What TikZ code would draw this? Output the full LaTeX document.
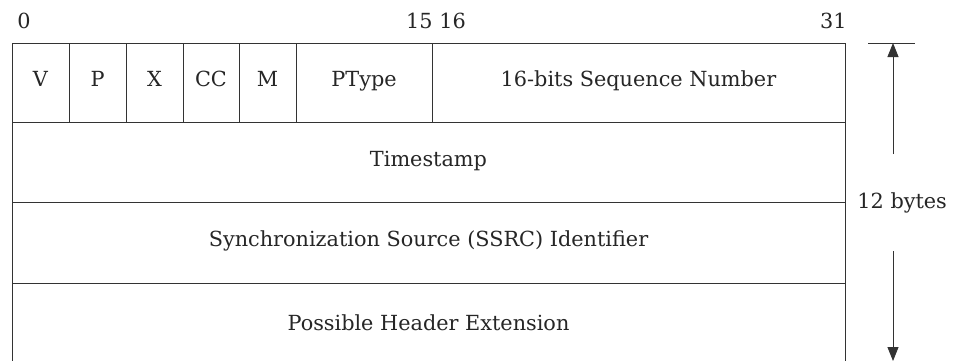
\documentclass[tikz,border=0pt]{standalone}
\usepackage{fontspec}
\setmainfont{DejaVu Serif}
\usetikzlibrary{arrows.meta}
\begin{document}
\begin{tikzpicture}[x=1pt,y=-1pt,
  line width=0.9pt,
  every node/.style={text=black!85},
  cell/.style={draw=black!80, anchor=north west, inner sep=0pt, outer sep=0pt,
    font=\fontsize{20.8}{24}\selectfont, text height=2ex, text depth=0.3ex},
  lbl/.style={font=\fontsize{20.8}{24}\selectfont, inner sep=0pt},
  dim/.style={draw=black!80, line width=0.9pt}
]
\useasboundingbox (0,0) rectangle (954,360);
\clip (0,0) rectangle (954,360);
\fill[white] (0,0) rectangle (954,360);

% bit positions above the header
\node[lbl] (b0)  at (24,21)  {0};
\node[lbl] (b15) at (436,21) {15 16};
\node[lbl, anchor=east] (b31) at (847,21) {31};

% first word: small fields
\node[cell, minimum width=57pt, minimum height=79pt] (v)  at (12,43)  {V};
\node[cell, minimum width=57pt, minimum height=79pt] (p)  at (69,43)  {P};
\node[cell, minimum width=57pt, minimum height=79pt] (x)  at (126,43) {X};
\node[cell, minimum width=56pt, minimum height=79pt] (cc) at (183,43) {CC};
\node[cell, minimum width=57pt, minimum height=79pt] (m)  at (239,43) {M};
\node[cell, minimum width=136pt, minimum height=79pt] (pt) at (296,43) {PType};
\node[cell, minimum width=413pt, minimum height=79pt] (seq) at (432,43) {16-bits Sequence Number};

% full-width words
\node[cell, minimum width=833pt, minimum height=80pt] (ts)   at (12,122) {Timestamp};
\node[cell, minimum width=833pt, minimum height=81pt] (ssrc) at (12,202) {Synchronization Source (SSRC) Identifier};
\node[cell, minimum width=833pt, minimum height=86pt] (ext)  at (12,283) {Possible Header Extension};

% size marker on the right
\coordinate (tl) at (868,43);
\coordinate (tr) at (915,43);
\coordinate (top) at (893,43);
\coordinate (upstart) at (893,154);
\coordinate (dnstart) at (893,251);
\coordinate (bot) at (893,361);
\draw[dim] (tl) -- (tr);
\draw[dim, -{Triangle[width=11pt,length=14pt]}] (upstart) -- (top);
\draw[dim, -{Triangle[width=11pt,length=14pt]}] (dnstart) -- (bot);
\node[lbl, anchor=west] (bytes) at (857,203) {12 bytes};
\end{tikzpicture}
\end{document}
